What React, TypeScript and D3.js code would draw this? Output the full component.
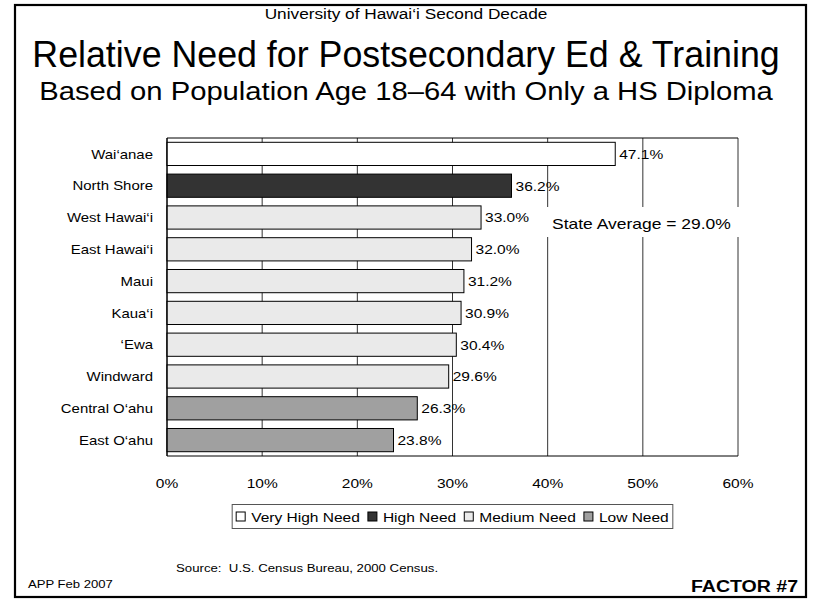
import React from "react";
import * as d3 from "d3";

const categories = [
  "Wai‘anae",
  "North Shore",
  "West Hawai‘i",
  "East Hawai‘i",
  "Maui",
  "Kaua‘i",
  "‘Ewa",
  "Windward",
  "Central O‘ahu",
  "East O‘ahu",
];
const values = [47.1, 36.2, 33.0, 32.0, 31.2, 30.9, 30.4, 29.6, 26.3, 23.8];
const needLevels = [
  "Very High Need",
  "High Need",
  "Medium Need",
  "Medium Need",
  "Medium Need",
  "Medium Need",
  "Medium Need",
  "Medium Need",
  "Low Need",
  "Low Need",
];
const legendLabels = ["Very High Need", "High Need", "Medium Need", "Low Need"];
const legendColors = ["#ffffff", "#333333", "#eaeaea", "#a0a0a0"];
const tickValues = [0, 10, 20, 30, 40, 50, 60];
const stateAverage = 29.0;

const FONT = "'Liberation Sans', Arial, Helvetica, sans-serif";
const SX = 1.15; // horizontal stretch of text in the reference

let canvas: HTMLCanvasElement | null = null;
function measure(text: string, size: number, weight = "normal") {
  if (!canvas) canvas = document.createElement("canvas");
  const ctx = canvas.getContext("2d")!;
  ctx.font = `${weight} ${size}px ${FONT}`;
  return ctx.measureText(text).width * SX;
}

function T({
  x,
  y,
  size,
  anchor = "start",
  weight = "normal",
  sx = SX,
  children,
}: {
  x: number;
  y: number;
  size: number;
  anchor?: string;
  weight?: string;
  sx?: number;
  children: React.ReactNode;
}) {
  return (
    <text
      transform={`translate(${x},${y}) scale(${sx},1)`}
      textAnchor={anchor}
      fontSize={size}
      fontWeight={weight}
      fontFamily={FONT}
      fill="#000"
      style={{ whiteSpace: "pre" }}
    >
      {children}
    </text>
  );
}

export default function App() {
  const color = d3.scaleOrdinal<string, string>().domain(legendLabels).range(legendColors);
  const x = d3.scaleLinear().domain([0, 60]).range([167, 738]);
  const y = d3
    .scaleBand<string>()
    .domain(categories)
    .range([138, 456])
    .paddingInner(0.27)
    .paddingOuter(0.135);
  const [y0, y1] = y.range();
  const fmt = d3.format(".1f");

  // legend layout
  const lgFont = 13.5;
  const sw = 9;
  const swGap = 6;
  const itemGap = 8;
  const pad = 4;
  const widths = legendLabels.map((l) => measure(l, lgFont));
  const total =
    pad * 2 + legendLabels.length * (sw + swGap) + d3.sum(widths) + itemGap * (legendLabels.length - 1);
  const lgLeft = 452.5 - total / 2;
  let cursor = lgLeft + pad;
  const legendItems = legendLabels.map((l, i) => {
    const item = { label: l, sx: cursor, tx: cursor + sw + swGap, color: legendColors[i] };
    cursor += sw + swGap + widths[i] + itemGap;
    return item;
  });

  return (
    <svg
      width={813}
      height={600}
      style={{ position: "absolute", left: 0, top: 0, display: "block", background: "#fff" }}
    >
      <rect x={0} y={0} width={813} height={600} fill="#fff" />
      <rect x={15} y={5} width={791} height={592} fill="none" stroke="#000" strokeWidth={2.2} />

      <T x={406} y={19} size={15} anchor="middle">
        University of Hawai‘i Second Decade
      </T>
      <T x={406} y={67} size={36.5} anchor="middle" sx={0.98}>
        Relative Need for Postsecondary Ed &amp; Training
      </T>
      <T x={406} y={100} size={25.4} anchor="middle">
        Based on Population Age 18–64 with Only a HS Diploma
      </T>

      {/* gridlines */}
      {tickValues.map((t) => (
        <line
          key={t}
          x1={x(t)}
          x2={x(t)}
          y1={y0}
          y2={y1}
          stroke={t === 0 ? "#000" : "#333"}
          strokeWidth={1}
        />
      ))}
      <line x1={x(0)} x2={x(60)} y1={y0} y2={y0} stroke="#000" strokeWidth={1} />
      <line x1={x(0)} x2={x(60)} y1={y1} y2={y1} stroke="#000" strokeWidth={1} />

      {/* state average annotation */}
      <rect x={546} y={207} width={194} height={30} fill="#fff" />
      <T x={552} y={229} size={15.2}>
        {`State Average = ${fmt(stateAverage)}%`}
      </T>

      {/* bars */}
      {categories.map((c, i) => (
        <g key={c}>
          <rect
            x={x(0)}
            y={y(c)!}
            width={x(values[i]) - x(0)}
            height={y.bandwidth()}
            fill={color(needLevels[i])}
            stroke="#000"
            strokeWidth={1}
          />
          <T x={153} y={y(c)! + y.bandwidth() / 2 + 4.7} size={13} anchor="end">
            {c}
          </T>
          <T x={x(values[i]) + 4} y={y(c)! + y.bandwidth() / 2 + 4.9} size={13.5}>
            {`${fmt(values[i])}%`}
          </T>
        </g>
      ))}
      <line x1={x(0)} x2={x(0)} y1={y0} y2={y1} stroke="#000" strokeWidth={1} />

      {/* x tick labels */}
      {tickValues.map((t) => (
        <T key={t} x={x(t)} y={488} size={13.5} anchor="middle">
          {`${t}%`}
        </T>
      ))}

      {/* legend */}
      <rect x={lgLeft} y={504.5} width={total} height={24} fill="#fff" stroke="#555" strokeWidth={1} />
      {legendItems.map((it) => (
        <g key={it.label}>
          <rect x={it.sx} y={512} width={sw} height={sw} fill={it.color} stroke="#000" strokeWidth={1} />
          <T x={it.tx} y={521.5} size={lgFont}>
            {it.label}
          </T>
        </g>
      ))}

      {/* footer */}
      <T x={176} y={571.5} size={11.5}>
        {"Source:  U.S. Census Bureau, 2000 Census."}
      </T>
      <T x={28} y={588} size={11.4}>
        APP Feb 2007
      </T>
      <T x={798} y={592} size={17} anchor="end" weight="bold">
        FACTOR #7
      </T>
    </svg>
  );
}
